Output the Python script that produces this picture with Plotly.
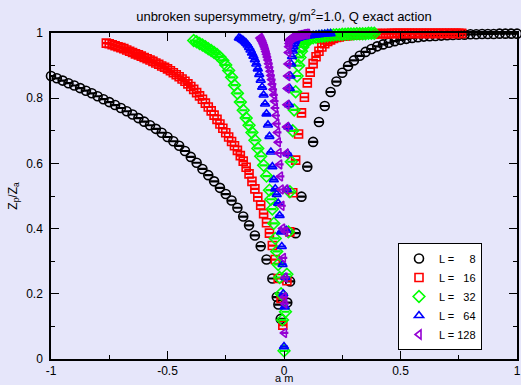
import plotly.graph_objects as go

# ---------------- data ----------------
L_values = [8, 16, 32, 64, 128]

am_L8 = [-1.0, -0.975, -0.95, -0.925, -0.9, -0.875, -0.85, -0.825, -0.8, -0.775,
         -0.75, -0.725, -0.7, -0.675, -0.65, -0.625, -0.6, -0.575, -0.55, -0.525,
         -0.5, -0.475, -0.45, -0.425, -0.4, -0.375, -0.35, -0.325, -0.3, -0.275,
         -0.25, -0.225, -0.2, -0.175, -0.15, -0.125, -0.1, -0.075, -0.05, -0.031,
         -0.024, -0.014,
         0.014, 0.026, 0.05, 0.075, 0.1, 0.125, 0.15, 0.175, 0.2, 0.225,
         0.25, 0.275, 0.3, 0.325, 0.35, 0.375, 0.4, 0.425, 0.45, 0.475,
         0.5, 0.525, 0.55, 0.575, 0.6, 0.625, 0.65, 0.675, 0.7, 0.725,
         0.75, 0.775, 0.8, 0.825, 0.85, 0.875, 0.9, 0.925, 0.95, 0.975, 1.0]
Z_L8 = [0.868, 0.861, 0.854, 0.846, 0.839, 0.831, 0.823, 0.815, 0.806, 0.797,
        0.788, 0.779, 0.770, 0.760, 0.750, 0.739, 0.728, 0.717, 0.706, 0.694,
        0.681, 0.668, 0.654, 0.638, 0.620, 0.602, 0.583, 0.564, 0.545, 0.525,
        0.506, 0.486, 0.464, 0.437, 0.410, 0.379, 0.346, 0.305, 0.247, 0.190,
        0.167, 0.123,
        0.173, 0.238, 0.386, 0.498, 0.590, 0.666, 0.727, 0.776, 0.819, 0.851,
        0.878, 0.899, 0.916, 0.930, 0.942, 0.951, 0.959, 0.965, 0.970, 0.975,
        0.979, 0.982, 0.985, 0.987, 0.989, 0.990, 0.991, 0.992, 0.993, 0.994,
        0.995, 0.995, 0.996, 0.996, 0.997, 0.997, 0.997, 0.998, 0.998, 0.998, 0.998]

am_L16 = [-0.7625, -0.75, -0.7375, -0.725, -0.7125, -0.7, -0.6875, -0.675, -0.6625, -0.65,
          -0.6375, -0.625, -0.6125, -0.6, -0.5875, -0.575, -0.5625, -0.55, -0.5375, -0.525,
          -0.5125, -0.5, -0.4875, -0.475, -0.4625, -0.45, -0.4375, -0.425, -0.4125, -0.4,
          -0.3875, -0.375, -0.3625, -0.35, -0.3375, -0.325, -0.3125, -0.3, -0.2875, -0.275,
          -0.2625, -0.25, -0.2375, -0.225, -0.2125, -0.2, -0.1875, -0.175, -0.1625, -0.15,
          -0.1375, -0.125, -0.1125, -0.1, -0.0875, -0.075, -0.0625, -0.05, -0.0375, -0.025,
          -0.0125, -0.005,
          0.0125, 0.025, 0.0375, 0.05, 0.0625, 0.075, 0.0875, 0.1, 0.1125, 0.125,
          0.1375, 0.15, 0.1625, 0.175, 0.1875, 0.2, 0.2125, 0.225, 0.2375, 0.25,
          0.2625, 0.275, 0.2875, 0.3, 0.3125, 0.325, 0.3375, 0.35, 0.3625, 0.375,
          0.3875, 0.4, 0.4125, 0.425, 0.4375, 0.45, 0.4625, 0.475, 0.4875, 0.5,
          0.5125, 0.525, 0.5375, 0.55, 0.5625, 0.575, 0.5875, 0.6, 0.6125, 0.625,
          0.6375, 0.65, 0.6625, 0.675, 0.6875, 0.7, 0.7125, 0.725, 0.7375, 0.75,
          0.7625]
Z_L16 = [0.969, 0.967, 0.964, 0.961, 0.958, 0.955, 0.952, 0.948, 0.944, 0.940,
         0.936, 0.933, 0.929, 0.925, 0.921, 0.917, 0.913, 0.908, 0.904, 0.899,
         0.895, 0.890, 0.884, 0.878, 0.872, 0.866, 0.859, 0.852, 0.844, 0.836,
         0.827, 0.817, 0.807, 0.797, 0.785, 0.773, 0.761, 0.748, 0.735, 0.721,
         0.708, 0.694, 0.681, 0.667, 0.654, 0.640, 0.624, 0.607, 0.588, 0.568,
         0.545, 0.522, 0.497, 0.472, 0.446, 0.418, 0.386, 0.348, 0.305, 0.247,
         0.186, 0.104,
         0.240, 0.390, 0.510, 0.610, 0.690, 0.755, 0.803, 0.847, 0.880, 0.906,
         0.927, 0.944, 0.957, 0.967, 0.974, 0.979, 0.983, 0.986, 0.988, 0.990,
         0.991, 0.992, 0.993, 0.994, 0.995, 0.995, 0.996, 0.996, 0.997, 0.997,
         0.997, 0.998, 0.998, 0.998, 0.998, 0.998, 0.999, 0.999, 0.999, 0.999,
         0.999, 0.999, 0.999, 0.999, 0.999, 0.999, 0.999, 0.999, 0.999, 0.999,
         0.999, 0.999, 0.999, 0.999, 0.999, 0.999, 0.999, 0.999, 0.999, 0.999,
         0.999]

am_L32 = [-0.3875, -0.375, -0.3625, -0.35, -0.3375, -0.325, -0.3125, -0.3, -0.2875, -0.275,
          -0.2625, -0.25, -0.2375, -0.225, -0.2125, -0.2, -0.1875, -0.175, -0.1625, -0.15,
          -0.1375, -0.125, -0.1125, -0.1, -0.0875, -0.075, -0.0625, -0.05625, -0.05, -0.04375,
          -0.0375, -0.03125, -0.025, -0.01875, -0.0125, -0.00625, 0.0,
          0.00625, 0.0125, 0.01875, 0.025, 0.03125, 0.0375, 0.04375, 0.05, 0.05625, 0.0625,
          0.06875, 0.075, 0.08125, 0.0875, 0.09375, 0.1,
          0.1125, 0.125, 0.1375, 0.15, 0.1625, 0.175, 0.1875, 0.2, 0.2125, 0.225,
          0.2375, 0.25, 0.2625, 0.275, 0.2875, 0.3, 0.3125, 0.325, 0.3375, 0.35,
          0.3625, 0.375, 0.3875]
Z_L32 = [0.977, 0.973, 0.968, 0.963, 0.958, 0.952, 0.946, 0.940, 0.934, 0.926,
         0.916, 0.902, 0.885, 0.864, 0.840, 0.815, 0.788, 0.763, 0.739, 0.717,
         0.695, 0.671, 0.646, 0.622, 0.594, 0.561, 0.518, 0.490, 0.460, 0.416,
         0.370, 0.330, 0.290, 0.250, 0.200, 0.120, 0.025,
         0.145, 0.260, 0.390, 0.513, 0.605, 0.700, 0.764, 0.820, 0.868, 0.900,
         0.925, 0.944, 0.957, 0.966, 0.973, 0.978,
         0.982, 0.985, 0.987, 0.989, 0.990, 0.991, 0.992, 0.993, 0.994, 0.995,
         0.995, 0.996, 0.996, 0.997, 0.997, 0.997, 0.998, 0.998, 0.998, 0.998,
         0.999, 0.999, 0.999]

am_L64 = [-0.19375, -0.1875, -0.18125, -0.175, -0.16875, -0.1625, -0.15625, -0.15, -0.14375, -0.1375,
          -0.13125, -0.125, -0.11875, -0.1125, -0.10625, -0.1, -0.09375, -0.0875, -0.08125, -0.075,
          -0.06875, -0.0625, -0.05625, -0.05, -0.04375, -0.0375, -0.03125, -0.025, -0.01875, -0.0125,
          -0.009375, -0.00625, -0.003125, 0.0,
          0.003125, 0.00625, 0.009375, 0.0125, 0.015625, 0.01875, 0.021875, 0.025, 0.028125, 0.03125,
          0.034375, 0.0375, 0.040625, 0.04375, 0.046875, 0.05,
          0.0625, 0.075, 0.0875, 0.1, 0.1125, 0.125, 0.1375, 0.15, 0.1625, 0.175, 0.1875, 0.2]
Z_L64 = [0.985, 0.983, 0.980, 0.977, 0.973, 0.969, 0.963, 0.956, 0.948, 0.939,
         0.929, 0.918, 0.905, 0.890, 0.873, 0.855, 0.834, 0.810, 0.782, 0.752,
         0.718, 0.683, 0.635, 0.590, 0.550, 0.522, 0.505, 0.478, 0.440, 0.390,
         0.345, 0.290, 0.200, 0.038,
         0.160, 0.250, 0.395, 0.520, 0.630, 0.712, 0.780, 0.830, 0.868, 0.905,
         0.928, 0.945, 0.958, 0.968, 0.975, 0.980,
         0.984, 0.987, 0.989, 0.991, 0.992, 0.993, 0.994, 0.995, 0.996, 0.997, 0.998, 0.998]

am_L128 = [-0.103125, -0.1, -0.096875, -0.09375, -0.090625, -0.0875, -0.084375, -0.08125, -0.078125, -0.075,
           -0.071875, -0.06875, -0.065625, -0.0625, -0.059375, -0.05625, -0.053125, -0.05, -0.046875, -0.04375,
           -0.040625, -0.0375, -0.034375, -0.03125, -0.028125, -0.025, -0.021875, -0.01875, -0.015625, -0.0125,
           -0.009375, -0.00625, -0.003125, 0.0,
           0.0015625, 0.003125, 0.0046875, 0.00625, 0.0078125, 0.009375, 0.0109375, 0.0125,
           0.0140625, 0.015625, 0.0171875, 0.01875, 0.0203125, 0.021875, 0.0234375, 0.025,
           0.03125, 0.0375, 0.04375, 0.05, 0.05625, 0.0625, 0.06875, 0.075, 0.08125, 0.0875, 0.09375, 0.1]
Z_L128 = [0.985, 0.982, 0.978, 0.974, 0.969, 0.964, 0.958, 0.951, 0.943, 0.935,
          0.926, 0.917, 0.906, 0.895, 0.883, 0.870, 0.857, 0.843, 0.827, 0.810,
          0.791, 0.770, 0.747, 0.722, 0.695, 0.665, 0.632, 0.597, 0.560, 0.520,
          0.470, 0.400, 0.310, 0.190,
          0.080, 0.170, 0.250, 0.390, 0.520, 0.630, 0.712, 0.780,
          0.830, 0.868, 0.905, 0.940, 0.958, 0.968, 0.975, 0.980,
          0.984, 0.987, 0.989, 0.991, 0.992, 0.993, 0.994, 0.995, 0.996, 0.997, 0.998, 0.998]

series_x = [am_L8, am_L16, am_L32, am_L64, am_L128]
series_y = [Z_L8, Z_L16, Z_L32, Z_L64, Z_L128]
for xs, ys in zip(series_x, series_y):
    assert len(xs) == len(ys), (len(xs), len(ys))

x_ticks = [-1, -0.5, 0, 0.5, 1]
x_ticktext = ["-1", "-0.5", "0", "0.5", "1"]
x_minor = [-0.75, -0.25, 0.25, 0.75]
y_ticks = [0, 0.2, 0.4, 0.6, 0.8, 1]
y_ticktext = ["0", "0.2", "0.4", "0.6", "0.8", "1"]
y_minor = [0.1, 0.3, 0.5, 0.7, 0.9]

# ---------------- styles ----------------
colors = ["#000000", "#ff0000", "#00ff00", "#0000ff", "#9400d3"]
symbols = ["circle-open", "square-open", "diamond-open", "triangle-up-open", "triangle-left-open"]
sizes = [9, 8, 9, 8, 8]

FONT = "Liberation Sans, Arial, Helvetica, sans-serif"
BG = "#e6e6fa"
NB = "\u00a0"

fig = go.Figure()
for L, xs, ys, c, s, sz in zip(L_values, series_x, series_y, colors, symbols, sizes):
    num = str(L)
    name = "L =" + NB * (2 * (3 - len(num)) + 1) + num
    fig.add_trace(go.Scatter(
        x=xs, y=ys, mode="markers", name=name,
        marker=dict(symbol=s, size=sz, color=c, line=dict(color=c, width=1.6)),
        error_y=dict(type="constant", value=0.0015, width=4, thickness=1.2, color=c),
        cliponaxis=False,
    ))

fig.update_layout(
    width=521, height=385,
    margin=dict(l=51, r=4, t=33, b=26),
    paper_bgcolor=BG, plot_bgcolor=BG,
    font=dict(family=FONT, size=12, color="black"),
    title=dict(text="unbroken supersymmetry, g/m<sup>2</sup>=1.0, Q exact action",
               x=0.5, xref="paper", xanchor="center",
               y=1 - 16 / 385, yref="container", yanchor="middle",
               font=dict(family=FONT, size=13, color="black")),
    showlegend=True,
    legend=dict(x=(482 - 51) / 466, xanchor="right", y=(359 - 243) / 326, yanchor="top",
                bgcolor="white", bordercolor="black", borderwidth=1,
                font=dict(family=FONT, size=11, color="black"),
                itemwidth=30, tracegroupgap=0),
    annotations=[dict(text="a m", xref="paper", yref="paper", x=0.5, y=(359 - 385) / 326,
                      xanchor="center", yanchor="bottom", showarrow=False, borderpad=0,
                      font=dict(family=FONT, size=11, color="black"))],
)

axis_common = dict(showline=True, linecolor="black", linewidth=1.5, mirror="ticks",
                   ticks="inside", ticklen=8, tickwidth=1.2, tickcolor="black",
                   showgrid=False, zeroline=False, tickmode="array", automargin=False,
                   tickfont=dict(family=FONT, size=12, color="black"))

fig.update_xaxes(range=[-1, 1], tickvals=x_ticks, ticktext=x_ticktext,
                 minor=dict(tickmode="array", tickvals=x_minor, ticks="inside",
                            ticklen=4, tickwidth=1.2, tickcolor="black"),
                 **axis_common)
fig.update_yaxes(range=[0, 1], tickvals=y_ticks, ticktext=y_ticktext,
                 minor=dict(tickmode="array", tickvals=y_minor, ticks="inside",
                            ticklen=4, tickwidth=1.2, tickcolor="black"),
                 title=dict(text="Z<sub>p</sub>/Z<sub>a</sub>", standoff=6,
                            font=dict(family=FONT, size=12)),
                 ticklabelstandoff=4,
                 **axis_common)

fig.write_html("out.html")
